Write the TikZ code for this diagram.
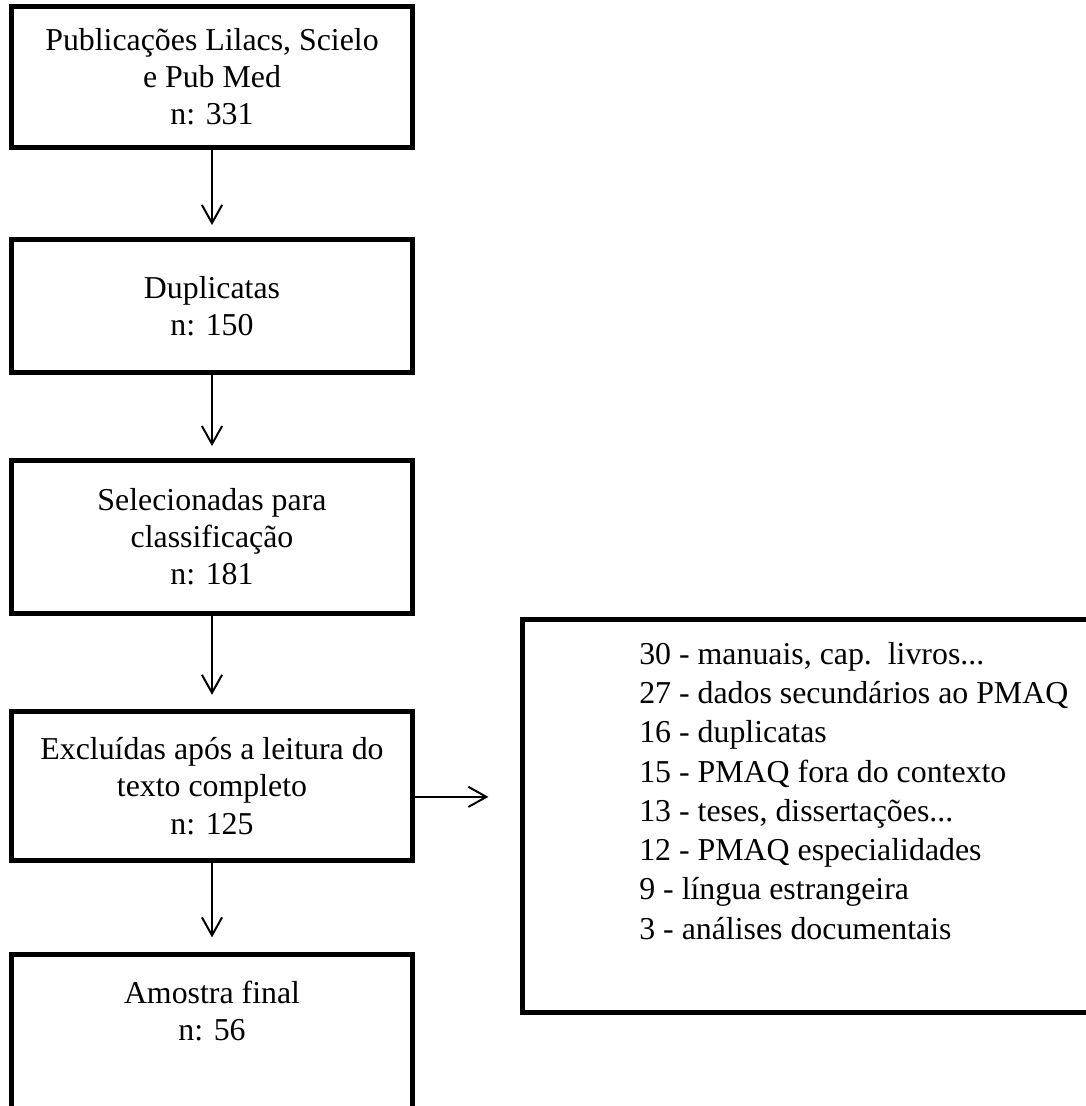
\documentclass[tikz,border=0pt]{standalone}
\usepackage{fontspec}
\setmainfont{Liberation Serif}
\usetikzlibrary{positioning,arrows.meta}

\tikzset{
  stepbox/.style={draw, line width=1.9pt, align=center, minimum width=151pt,
    font=\fontsize{12pt}{14pt}\selectfont},
}

\begin{document}
\begin{tikzpicture}[x=0.3768pt, y=-0.3768pt, line width=0.75pt,
  >={Straight Barb[length=6.8pt,width=7.6pt]}]

\useasboundingbox (0,0) rectangle (1085,1106);

\draw
    node at(212,77)[stepbox,minimum height=52.8pt,name=pubs]{Publicações Lilacs, Scielo\\e Pub Med\\n: 331}

    node at(212,306)[stepbox,minimum height=50.1pt,name=dup]{Duplicatas\\n: 150}

    node at(212,537)[stepbox,minimum height=57.6pt,name=selec]{Selecionadas para\\classificação\\n: 181}

    node at(212,786)[stepbox,minimum height=55.8pt,name=exclu]{Excluídas após a leitura do\\texto completo\\n: 125}

    node at(212,952)[stepbox,anchor=north,inner ysep=10pt,text depth=60pt,name=final]{Amostra final\\n: 56}

    %% motivos de exclusao
    node at(520,617)[draw,line width=1.9pt,anchor=north west,align=left,inner xsep=44pt,
        minimum height=148pt,font=\fontsize{12pt}{14.8pt}\selectfont,name=motivos]
        {30 - manuais, cap.~~livros...\\
         27 - dados secundários ao PMAQ\\
         16 - duplicatas\\
         15 - PMAQ fora do contexto\\
         13 - teses, dissertações...\\
         12 - PMAQ especialidades\\
         9 - língua estrangeira\\
         3 - análises documentais\rule[-19pt]{0pt}{0pt}}
;
    \draw[->,shorten >=4.5pt](pubs) -- (dup);
    \draw[->,shorten >=4.5pt](dup) -- (selec);
    \draw[->,shorten >=5.5pt](selec) -- (exclu);
    \draw[->,shorten >=5.5pt](exclu) -- (final);

    \draw[->,shorten >=11.9pt]([yshift=-4.1pt]exclu.east) -- ([yshift=-4.1pt]exclu.east -| motivos.west);

\end{tikzpicture}
\end{document}
